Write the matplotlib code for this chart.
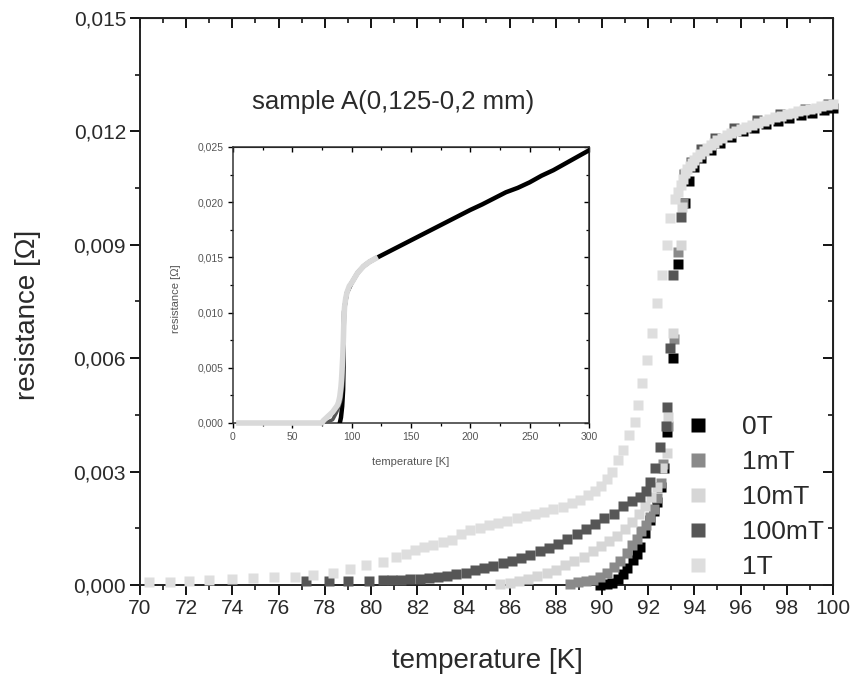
import matplotlib
matplotlib.use("Agg")
import matplotlib.pyplot as plt
from matplotlib.ticker import MultipleLocator, FuncFormatter
from matplotlib.lines import Line2D

plt.rcParams['font.family'] = ['Liberation Sans', 'DejaVu Sans']
TXT = '#2a2a2a'

# ---- main panel data (temperature [K], resistance [Ohm]) ----
labels = ['0T', '1mT', '10mT', '100mT', '1T']
colors = ['#000000', '#8a8a8a', '#d6d6d6', '#565656', '#dedede']

t_0T = [89.9, 90.2, 90.45, 90.7, 90.9, 91.1, 91.35, 91.5, 91.65, 91.86, 92.08, 92.25,
        92.4, 92.55, 92.7, 92.8, 93.07, 93.3, 93.6, 93.75, 94.0, 94.3, 94.7, 95.1, 95.6,
        96.1, 96.6, 97.1, 97.6, 98.1, 98.6, 99.1, 99.6, 100.0]
r_0T = [0.0, 0.00002, 0.00006, 0.00015, 0.0003, 0.00045, 0.00066, 0.00083, 0.00101,
        0.00137, 0.00172, 0.00195, 0.0022, 0.0026, 0.0031, 0.00406, 0.006, 0.0085,
        0.0101, 0.01068, 0.01106, 0.0113, 0.01152, 0.0117, 0.01186, 0.012, 0.0121,
        0.01219, 0.01228, 0.01236, 0.01243, 0.0125, 0.01256, 0.01261]

t_1mT = [88.6, 88.95, 89.3, 89.6, 89.9, 90.2, 90.5, 90.8, 91.07, 91.3, 91.5, 91.7, 91.9,
         92.08, 92.25, 92.4, 92.55, 92.65, 92.86, 93.1, 93.3, 93.5]
r_1mT = [0.00003, 0.00007, 0.0001, 0.00013, 0.00021, 0.00032, 0.00047, 0.00064, 0.00085,
         0.00105, 0.00122, 0.00142, 0.0016, 0.0018, 0.002, 0.0023, 0.0027, 0.0032,
         0.0042, 0.0065, 0.0088, 0.0101]

t_10mT = [85.6, 86.0, 86.4, 86.8, 87.2, 87.6, 88.0, 88.4, 88.8, 89.2, 89.6, 89.95, 90.3,
          90.65, 91.0, 91.3, 91.6, 91.85, 92.1, 92.37, 92.6, 92.8, 92.86, 93.07, 93.4, 93.45]
r_10mT = [0.00002, 0.00005, 0.0001, 0.00016, 0.00023, 0.00031, 0.0004, 0.00052, 0.00063,
          0.00075, 0.00089, 0.00102, 0.00116, 0.0013, 0.00148, 0.00166, 0.00188, 0.0021,
          0.00232, 0.0026, 0.0031, 0.0035, 0.00445, 0.00667, 0.009, 0.01]

t_100mT = [77.2, 78.2, 79.0, 79.9, 80.5, 80.9, 81.3, 81.7, 82.1, 82.5, 82.9, 83.3, 83.7,
           84.1, 84.5, 84.9, 85.3, 85.7, 86.1, 86.5, 86.9, 87.3, 87.7, 88.1, 88.5, 88.9,
           89.3, 89.7, 90.1, 90.5, 90.9, 91.3, 91.65, 91.9, 92.08, 92.3, 92.5, 92.75,
           92.8, 92.94, 93.07, 93.4, 93.55, 93.85, 94.3, 94.9, 95.7, 96.7, 97.7, 98.8, 99.8]
r_100mT = [0.0001, 0.0001, 0.00011, 0.00011, 0.00012, 0.00013, 0.00014, 0.00015, 0.00017,
           0.00019, 0.00021, 0.00024, 0.00028, 0.00033, 0.00039, 0.00045, 0.00051, 0.00057,
           0.00064, 0.00072, 0.0008, 0.00089, 0.00098, 0.00108, 0.00122, 0.00136, 0.00148,
           0.00162, 0.00176, 0.00189, 0.00208, 0.00222, 0.00233, 0.0025, 0.00273, 0.0031,
           0.00366, 0.0042, 0.0047, 0.00627, 0.0082, 0.00974, 0.01088, 0.01118, 0.01153,
           0.01182, 0.01208, 0.0123, 0.01246, 0.0126, 0.01272]

t_1T = [70.4, 71.3, 72.1, 73.0, 74.0, 74.9, 75.8, 76.7, 77.5, 78.35, 79.1, 79.8, 80.5,
        81.1, 81.5, 81.9, 82.3, 82.7, 83.1, 83.5, 83.9, 84.3, 84.7, 85.1, 85.5, 85.9,
        86.3, 86.7, 87.1, 87.5, 87.9, 88.3, 88.7, 89.05, 89.4, 89.7, 89.95, 90.2, 90.45,
        90.7, 90.9, 91.15, 91.45, 91.55, 91.72, 91.93, 92.15, 92.37, 92.6, 92.8, 92.94,
        93.15, 93.3, 93.4, 93.5, 93.6, 93.7, 93.8, 93.9, 94.0, 94.12, 94.25, 94.4, 94.55,
        94.7, 94.85, 95.0, 95.2, 95.4, 95.6, 95.8, 96.0, 96.25, 96.5, 96.75, 97.0, 97.25,
        97.5, 97.75, 98.0, 98.25, 98.5, 98.75, 99.0, 99.25, 99.5, 99.75, 100.0]
r_1T = [0.00009, 0.00009, 0.00011, 0.00013, 0.00015, 0.00018, 0.0002, 0.00022, 0.00026,
        0.00033, 0.00042, 0.00053, 0.00062, 0.00075, 0.00083, 0.00092, 0.001, 0.00107,
        0.00113, 0.0012, 0.00135, 0.00145, 0.00152, 0.00158, 0.00164, 0.0017, 0.00176,
        0.00182, 0.00188, 0.00194, 0.002, 0.00207, 0.00216, 0.00225, 0.00237, 0.0025,
        0.00262, 0.0028, 0.003, 0.0033, 0.00357, 0.00397, 0.00432, 0.00476, 0.00534,
        0.00595, 0.00667, 0.00746, 0.0082, 0.009, 0.0097, 0.0102, 0.0104, 0.01058,
        0.01075, 0.0109, 0.011, 0.01108, 0.01116, 0.01124, 0.01132, 0.0114, 0.01149,
        0.01157, 0.01164, 0.0117, 0.01176, 0.01183, 0.0119, 0.01196, 0.01201, 0.01206,
        0.01212, 0.01218, 0.01223, 0.01228, 0.01233, 0.01237, 0.01241, 0.01245, 0.01249,
        0.01253, 0.01256, 0.0126, 0.01263, 0.01266, 0.01269, 0.01272]

# ---- inset data ----
in_t_0T = [90, 91, 92, 92.8, 93.1, 93.3, 93.6, 94, 96, 100, 105, 110, 115, 120, 130, 140,
           150, 160, 170, 180, 190, 200, 210, 220, 230, 240, 250, 260, 270, 280, 290, 300]
in_r_0T = [0.0, 0.0005, 0.0015, 0.003, 0.005, 0.0085, 0.0101, 0.0105, 0.0118, 0.0127,
           0.0136, 0.0142, 0.0146, 0.0149, 0.01545, 0.016, 0.01655, 0.0171, 0.01765,
           0.0182, 0.01875, 0.0193, 0.0198, 0.02035, 0.0209, 0.0213, 0.0218, 0.0224,
           0.0229, 0.0235, 0.0241, 0.0247]
in_t_100mT = [80, 84, 87, 89, 91, 92.5, 93]
in_r_100mT = [0.0001, 0.0003, 0.0009, 0.0014, 0.0021, 0.0035, 0.0048]
in_t_1T = [5, 15, 25, 35, 45, 55, 65, 75, 76, 78, 80, 82, 84, 86, 88, 89, 90, 91, 91.5,
           92, 92.5, 93, 93.5, 94, 95, 96, 98, 100, 105, 110, 115, 120]
in_r_1T = [0, 0, 0, 0, 0, 0, 0, 0, 0.0002, 0.0004, 0.0006, 0.0008, 0.001, 0.0013,
           0.0016, 0.0019, 0.0024, 0.0033, 0.004, 0.005, 0.006, 0.0075, 0.0095, 0.0105,
           0.0113, 0.0118, 0.0124, 0.0127, 0.0136, 0.0142, 0.0146, 0.0149]

comma = lambda d: FuncFormatter(lambda v, p: f'{v:.{d}f}'.replace('.', ','))

fig = plt.figure(figsize=(8.54, 6.79), dpi=100)
ax = fig.add_axes([140/854, 1-585/679, 693/854, 567/679])

series = [(t_10mT, r_10mT, 2), (t_1mT, r_1mT, 1), (t_0T, r_0T, 0),
          (t_100mT, r_100mT, 3), (t_1T, r_1T, 4)]
for t, r, i in series:
    ax.plot(t, r, 's', ms=7.5, mec='none', color=colors[i], zorder=3 + 0.1 * i,
            clip_on=False)

ax.set_xlim(70, 100)
ax.set_ylim(0, 0.015)
ax.xaxis.set_major_locator(MultipleLocator(2))
ax.xaxis.set_minor_locator(MultipleLocator(1))
ax.yaxis.set_major_locator(MultipleLocator(0.003))
ax.yaxis.set_minor_locator(MultipleLocator(0.0015))
ax.yaxis.set_major_formatter(comma(3))
ax.tick_params(which='major', direction='out', length=7, width=1.3, labelsize=15,
               labelcolor=TXT, pad=3)
ax.tick_params(which='minor', direction='out', length=3.5, width=1.1)
for s in ax.spines.values():
    s.set_linewidth(1.4)
    s.set_color('#222222')

# top/right ticks pointing inwards
sx = ax.secondary_xaxis('top')
sx.xaxis.set_major_locator(MultipleLocator(2))
sx.xaxis.set_minor_locator(MultipleLocator(1))
sx.tick_params(which='major', direction='in', length=7, width=1.3, labeltop=False)
sx.tick_params(which='minor', direction='in', length=3.5, width=1.1)
sy = ax.secondary_yaxis('right')
sy.yaxis.set_major_locator(MultipleLocator(0.003))
sy.yaxis.set_minor_locator(MultipleLocator(0.0015))
sy.tick_params(which='major', direction='in', length=7, width=1.3, labelright=False)
sy.tick_params(which='minor', direction='in', length=3.5, width=1.1)

fig.text(487/854, 1-661/679, 'temperature [K]', ha='center', va='center',
         fontsize=20, color=TXT)
fig.text(28/854, 1-315/679, 'resistance [Ω]', ha='center', va='center',
         rotation=90, fontsize=20, color=TXT)
fig.text(393/854, 1-102/679, 'sample A(0,125-0,2 mm)', ha='center', va='center',
         fontsize=18.5, color=TXT)

handles = [Line2D([], [], ls='none', marker='s', ms=9.5, mec='none', color=c)
           for c in colors]
fig.legend(handles, labels, loc='upper left', bbox_to_anchor=(689/854, 1-415/679),
           frameon=False, fontsize=19, handlelength=0.7, handletextpad=1.3,
           labelspacing=0.42, borderpad=0, borderaxespad=0, labelcolor=TXT)

# ---- inset ----
ai = fig.add_axes([233/854, 1-423/679, 356/854, 276/679])
ai.plot(in_t_0T, in_r_0T, '-', color='black', lw=3.2, zorder=3)
ai.plot(in_t_100mT, in_r_100mT, '-', color='#555555', lw=2.5, zorder=3.1)
ai.plot(in_t_1T, in_r_1T, '-', color='#d9d9d9', lw=4, zorder=3.2, clip_on=False)
ai.set_xlim(0, 300)
ai.set_ylim(0, 0.025)
ai.xaxis.set_major_locator(MultipleLocator(50))
ai.xaxis.set_minor_locator(MultipleLocator(25))
ai.yaxis.set_major_locator(MultipleLocator(0.005))
ai.yaxis.set_minor_locator(MultipleLocator(0.0025))
ai.yaxis.set_major_formatter(comma(3))
ai.tick_params(which='major', direction='out', length=3.5, width=1, labelsize=7.5,
               labelcolor='#555555', pad=3)
ai.tick_params(which='minor', direction='out', length=2, width=0.9)
for s in ai.spines.values():
    s.set_linewidth(1.1)
    s.set_color('#333333')
ix = ai.secondary_xaxis('top')
ix.xaxis.set_major_locator(MultipleLocator(50))
ix.xaxis.set_minor_locator(MultipleLocator(25))
ix.tick_params(which='major', direction='in', length=3.5, width=1, labeltop=False)
ix.tick_params(which='minor', direction='in', length=2, width=0.9)
iy = ai.secondary_yaxis('right')
iy.yaxis.set_major_locator(MultipleLocator(0.005))
iy.yaxis.set_minor_locator(MultipleLocator(0.0025))
iy.tick_params(which='major', direction='in', length=3.5, width=1, labelright=False)
iy.tick_params(which='minor', direction='in', length=2, width=0.9)

fig.text(411/854, 1-462/679, 'temperature [K]', ha='center', va='center',
         fontsize=8, color='#555555')
fig.text(176/854, 1-299/679, 'resistance [Ω]', ha='center', va='center',
         rotation=90, fontsize=8, color='#555555')

fig.savefig('out.png', dpi=100, facecolor='white')
